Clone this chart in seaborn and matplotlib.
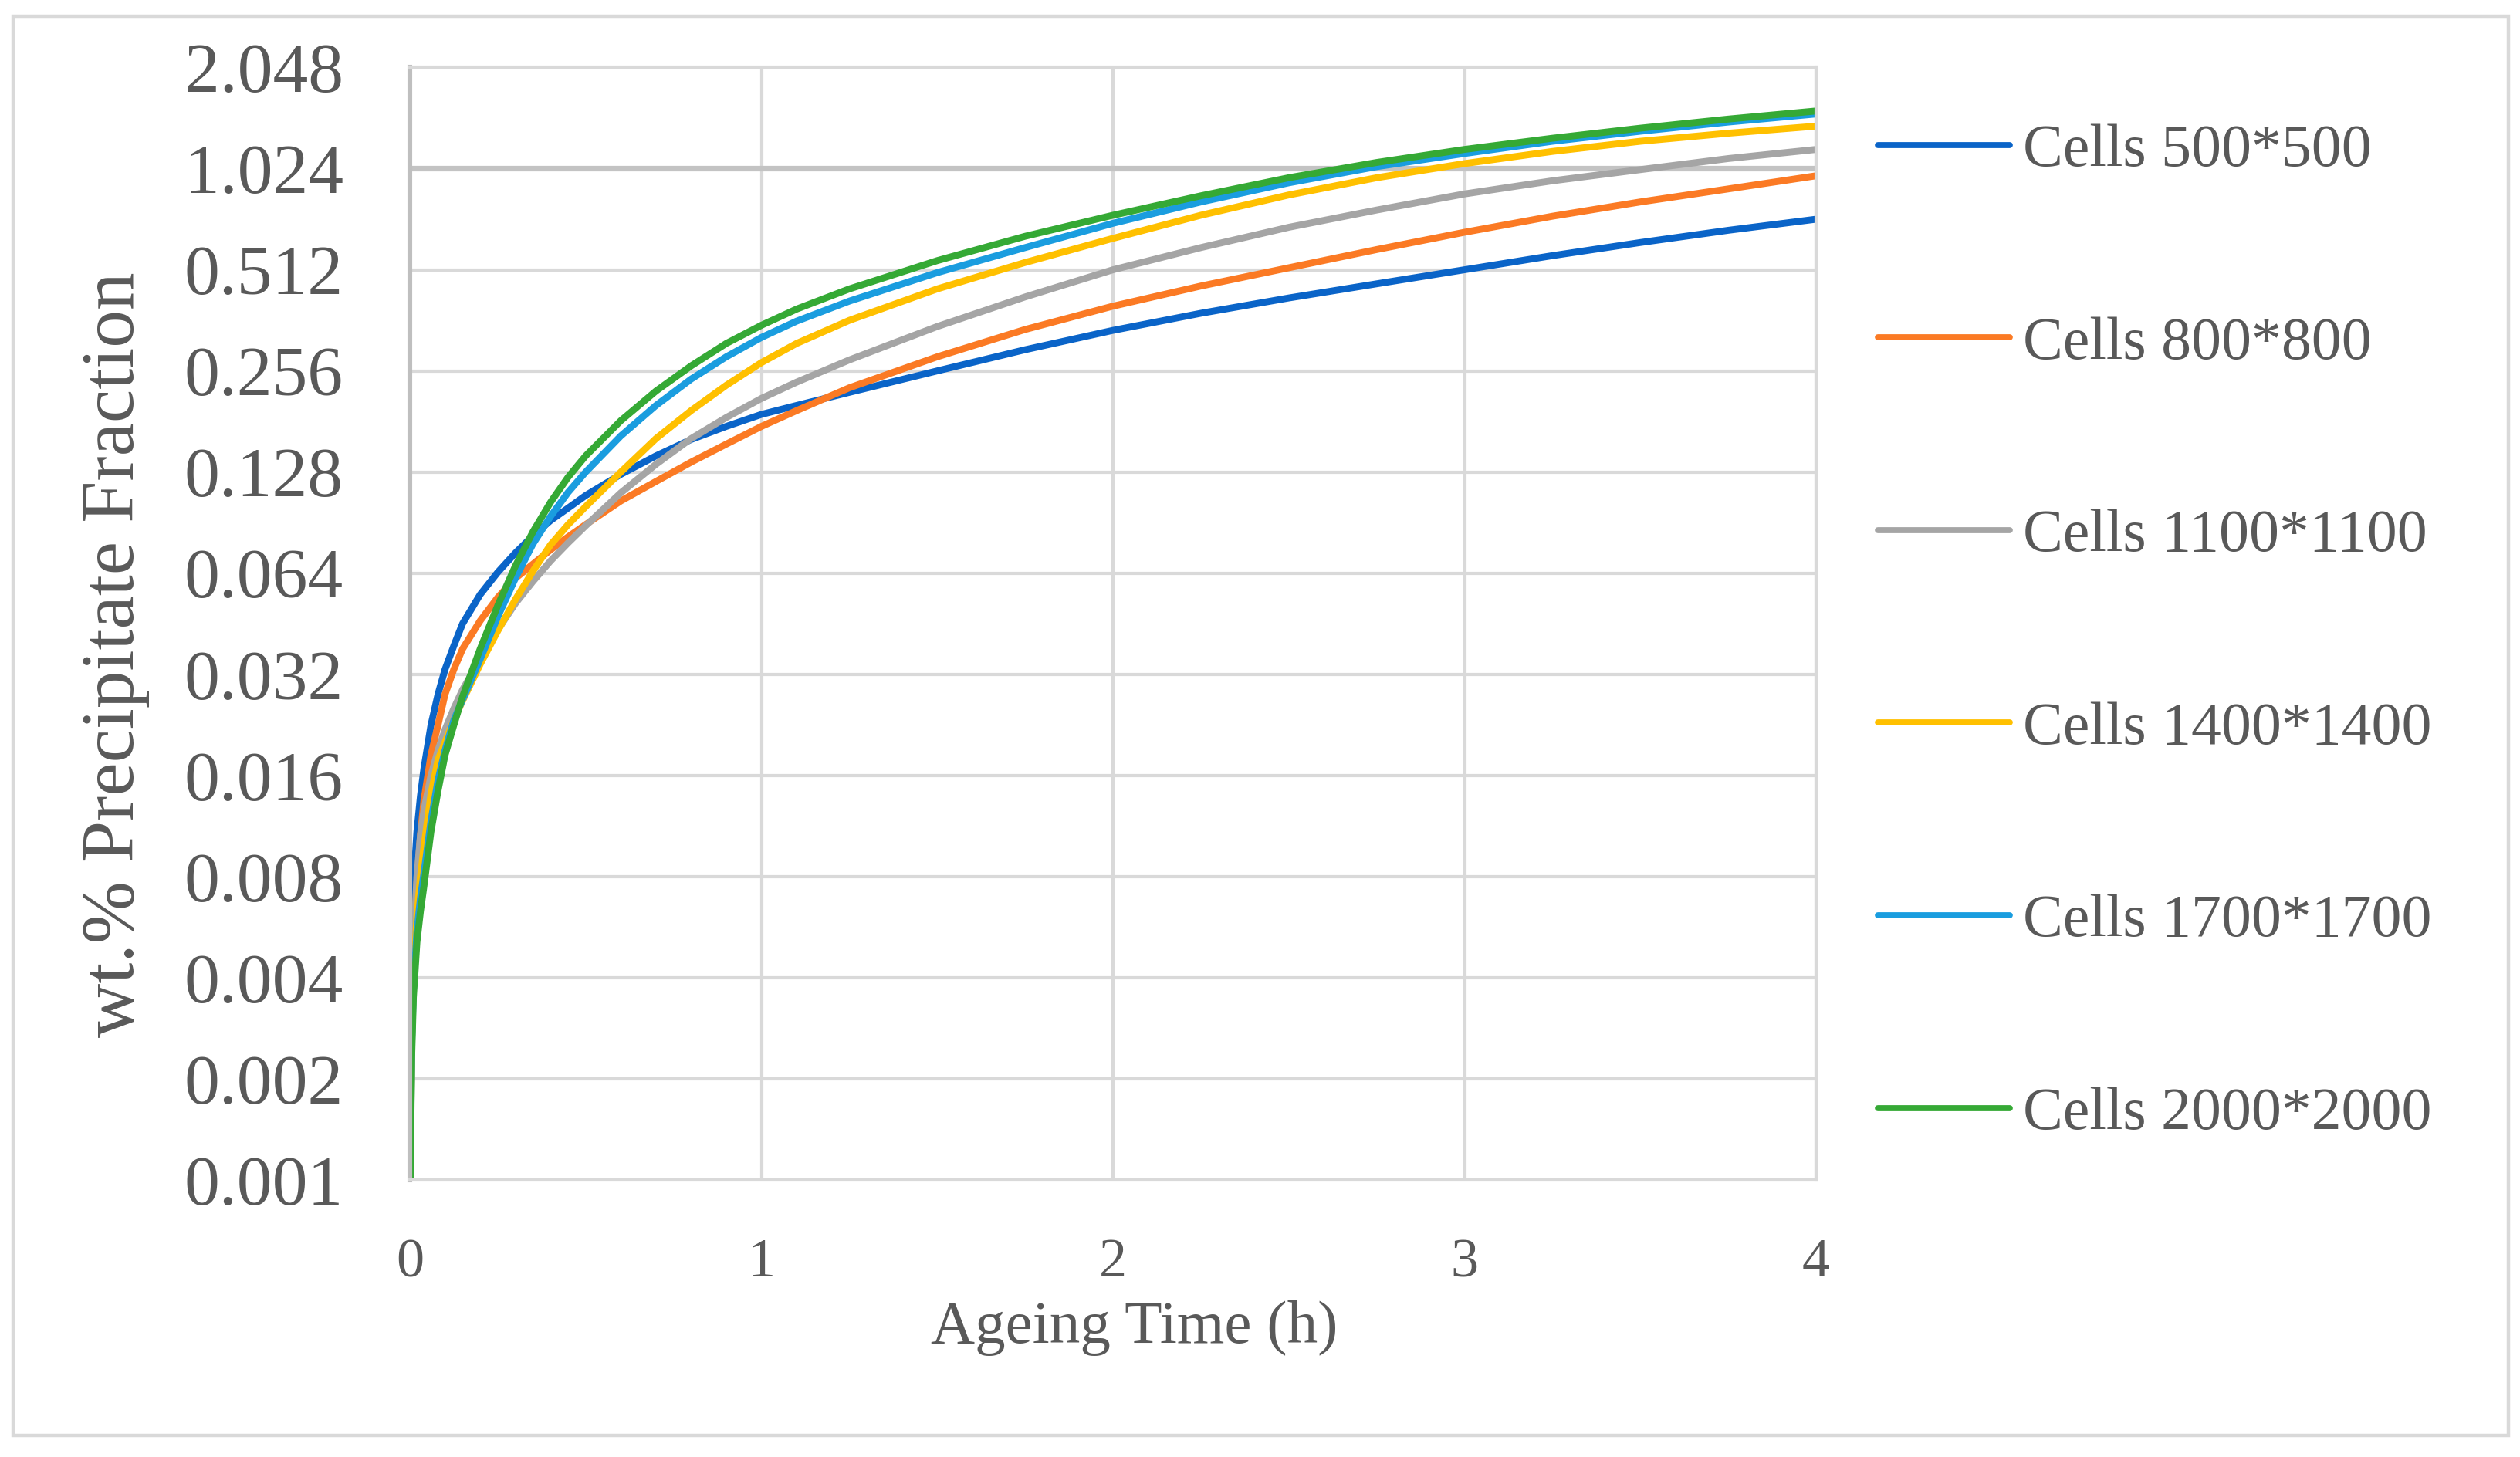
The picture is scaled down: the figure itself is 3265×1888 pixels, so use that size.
import matplotlib
matplotlib.use("Agg")
import matplotlib.pyplot as plt
import matplotlib.ticker as mticker
from matplotlib.patches import Rectangle
import seaborn as sns
import pandas as pd

# ---------------- data ----------------
time_h = [0, 0.005, 0.01, 0.02, 0.03, 0.04, 0.06, 0.08, 0.1, 0.125, 0.15, 0.2, 0.25,
          0.3, 0.35, 0.4, 0.45, 0.5, 0.6, 0.7, 0.8, 0.9, 1.0, 1.1, 1.25, 1.5, 1.75,
          2.0, 2.25, 2.5, 2.75, 3.0, 3.25, 3.5, 3.75, 4.0]

cells_500 = [0.0008, 0.0046, 0.0075, 0.0109, 0.0139, 0.0168, 0.0226, 0.0279, 0.0331,
             0.0389, 0.0453, 0.0553, 0.0644, 0.0735, 0.0827, 0.0918, 0.100, 0.109,
             0.126, 0.143, 0.160, 0.175, 0.190, 0.202, 0.221, 0.256, 0.296, 0.338,
             0.380, 0.422, 0.465, 0.512, 0.564, 0.617, 0.671, 0.724]
cells_800 = [0.0008, 0.0029, 0.0046, 0.0077, 0.0106, 0.0135, 0.0184, 0.0226, 0.0279,
             0.0331, 0.0381, 0.0462, 0.0542, 0.0618, 0.0681, 0.0751, 0.0821, 0.0893,
             0.105, 0.120, 0.137, 0.155, 0.175, 0.195, 0.228, 0.282, 0.340, 0.399,
             0.458, 0.519, 0.588, 0.662, 0.739, 0.815, 0.891, 0.975]
cells_1100 = [0.0008, 0.0030, 0.0049, 0.0080, 0.0106, 0.0126, 0.0160, 0.0190, 0.0219,
              0.0253, 0.0288, 0.0355, 0.0434, 0.0520, 0.0605, 0.0696, 0.0788, 0.0886,
              0.111, 0.135, 0.161, 0.186, 0.212, 0.237, 0.276, 0.347, 0.425, 0.512,
              0.596, 0.685, 0.771, 0.861, 0.942, 1.017, 1.097, 1.168]
cells_1400 = [0.0008, 0.00255, 0.0039, 0.0061, 0.0080, 0.0098, 0.0141, 0.0178, 0.0201,
              0.0234, 0.0267, 0.0343, 0.0431, 0.0534, 0.0649, 0.0777, 0.0893, 0.101,
              0.128, 0.161, 0.195, 0.232, 0.271, 0.309, 0.362, 0.449, 0.538, 0.635,
              0.744, 0.855, 0.962, 1.060, 1.152, 1.235, 1.305, 1.370]
cells_1700 = [0.0008, 0.0025, 0.0037, 0.0055, 0.0069, 0.0082, 0.0117, 0.0155, 0.0190,
              0.0234, 0.0269, 0.0355, 0.0475, 0.0618, 0.0782, 0.0944, 0.1114, 0.128,
              0.164, 0.202, 0.242, 0.282, 0.322, 0.360, 0.413, 0.502, 0.596, 0.704,
              0.815, 0.929, 1.038, 1.136, 1.235, 1.323, 1.409, 1.489]
cells_2000 = [0.0008, 0.0023, 0.0035, 0.0051, 0.0063, 0.0075, 0.0109, 0.0144, 0.0184,
              0.0226, 0.0275, 0.0381, 0.0513, 0.0672, 0.0850, 0.104, 0.1236, 0.143,
              0.182, 0.223, 0.265, 0.309, 0.350, 0.391, 0.449, 0.545, 0.644, 0.744,
              0.850, 0.962, 1.068, 1.168, 1.261, 1.351, 1.438, 1.520]

series_labels = ["Cells 500*500", "Cells 800*800", "Cells 1100*1100",
                 "Cells 1400*1400", "Cells 1700*1700", "Cells 2000*2000"]
series_values = [cells_500, cells_800, cells_1100, cells_1400, cells_1700, cells_2000]
series_colors = ["#0a64c8", "#fb7a24", "#a5a5a5", "#ffc000", "#1a9ddf", "#35a935"]

y_ticks = [0.001, 0.002, 0.004, 0.008, 0.016, 0.032, 0.064, 0.128, 0.256, 0.512, 1.024, 2.048]
x_ticks = [0, 1, 2, 3, 4]

# ---------------- build table ----------------
rows = []
for lab, vals in zip(series_labels, series_values):
    for t, v in zip(time_h, vals):
        rows.append({"t": t, "v": v, "series": lab})
df = pd.DataFrame(rows)

# ---------------- style ----------------
sns.set_theme(style="white")
plt.rcParams["font.family"] = ["Liberation Serif", "DejaVu Serif"]
text_color = "#595959"
grid_color = "#d9d9d9"

fig = plt.figure(figsize=(16.33, 9.44), dpi=200)
ax = fig.add_axes([0.1626, 0.1901, 0.7205 - 0.1626, 0.9537 - 0.1901])

sns.lineplot(data=df, x="t", y="v", hue="series", hue_order=series_labels,
             palette=series_colors, linewidth=3.2, estimator=None, sort=True,
             ax=ax, solid_capstyle="round", solid_joinstyle="round")

ax.set_yscale("log", base=2)
ax.set_ylim(y_ticks[0], y_ticks[-1])
ax.set_xlim(0, 4)
ax.set_yticks(y_ticks)
ax.yaxis.set_major_formatter(mticker.FuncFormatter(lambda v, p: f"{v:.3f}"))
ax.yaxis.set_minor_locator(mticker.NullLocator())
ax.set_xticks(x_ticks)
ax.set_xticklabels([str(x) for x in x_ticks])

ax.grid(True, which="major", color=grid_color, linewidth=1.5)
ax.set_axisbelow(True)
# horizontal category axis drawn at the 1.024 level (Excel style)
ax.axhline(1.024, color="#c3c3c3", linewidth=2.6, zorder=1)

for side in ["top", "bottom", "right"]:
    ax.spines[side].set_color(grid_color)
    ax.spines[side].set_linewidth(1.5)
ax.spines["left"].set_color("#bfbfbf")
ax.spines["left"].set_linewidth(2.2)

ax.tick_params(axis="y", length=0, pad=31, labelsize=33, labelcolor=text_color)
ax.tick_params(axis="x", length=0, pad=27, labelsize=26, labelcolor=text_color)
ax.set_xlabel("")
ax.set_ylabel("")

fig.text(0.450, 0.0885, "Ageing Time (h)", ha="center", va="center",
         fontsize=28.5, color=text_color)
fig.text(0.046, 0.551, "wt.% Precipitate Fraction", ha="center", va="center",
         rotation=90, fontsize=35, color=text_color)

handles, labels = ax.get_legend_handles_labels()
if ax.get_legend() is not None:
    ax.get_legend().remove()
leg = fig.legend(handles, labels, loc="center left", bbox_to_anchor=(0.745, 0.5656),
                 frameon=False, fontsize=28, handlelength=2.2, handletextpad=0.22,
                 labelspacing=2.29, borderpad=0, borderaxespad=0)
for txt in leg.get_texts():
    txt.set_color(text_color)
for ln in leg.get_lines():
    ln.set_linewidth(2.8)

# outer chart border
fig.patches.append(Rectangle((0.0052, 0.0148), 0.995 - 0.0052, 0.9889 - 0.0148,
                             transform=fig.transFigure, fill=False,
                             edgecolor=grid_color, linewidth=1.6))

fig.savefig("out.png", dpi=200, facecolor="white")
